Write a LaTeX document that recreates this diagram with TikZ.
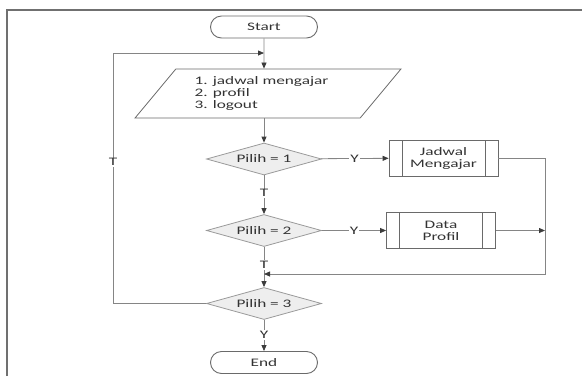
\documentclass[tikz,border=0pt]{standalone}
\usepackage{fontspec}
\setmainfont{Carlito}[FakeStretch=1.5]
\usetikzlibrary{shapes.geometric,shapes.misc,arrows.meta}

\definecolor{ink}{HTML}{333333}
\definecolor{wire}{HTML}{858585}
\definecolor{tipc}{HTML}{3C3C3C}
\definecolor{decfill}{HTML}{EEEEEE}
\definecolor{decline}{HTML}{9A9A9A}
\definecolor{boxline}{HTML}{6A6A6A}
\definecolor{framec}{HTML}{707070}

\begin{document}
\begin{tikzpicture}[x=1pt,y=-1pt,
  font=\fontsize{11.5}{12}\selectfont, text=ink,
  terminal/.style={rounded rectangle, draw=boxline, line width=0.9pt,
    minimum width=107pt, minimum height=22pt, inner sep=0pt},
  menubox/.style={trapezium, trapezium left angle=47.5, trapezium right angle=132.5,
    trapezium stretches=true, draw=boxline, line width=0.8pt, align=left,
    minimum width=266pt, minimum height=49pt, inner sep=1pt},
  decision/.style={diamond, aspect=3.6, draw=decline, fill=decfill, line width=0.8pt,
    minimum width=115pt, minimum height=32pt, inner sep=0pt},
  subproc/.style={rectangle, draw=boxline, line width=0.8pt, align=center,
    minimum width=109pt, minimum height=36pt, inner sep=0pt,
    path picture={
      \draw[boxline, line width=0.8pt]
        ([xshift=13pt]path picture bounding box.north west) --
        ([xshift=13pt]path picture bounding box.south west)
        ([xshift=-13pt]path picture bounding box.north east) --
        ([xshift=-13pt]path picture bounding box.south east);}},
  wireline/.style={draw=wire, line width=0.8pt},
  arr/.style={wireline, -{Triangle[length=6pt,width=5pt,color=tipc]}},
  lbl/.style={fill=white, inner sep=1pt},
  framing/.style={draw=framec, line width=1.6pt}
]
\useasboundingbox (0,0) rectangle (582,376);

% page frame
\draw[framing] (7,376) -- (7,10) -- (582,10);

% nodes
\node[terminal] (start) at (264,27) {Start};
\node[menubox] (menu) at (268,93.5) {1. jadwal mengajar\hspace*{13pt}\\2. profil\\3. logout};
\node[decision] (d1) at (264,159) {Pilih = 1};
\node[decision] (d2) at (264,230.5) {Pilih = 2};
\node[decision] (d3) at (264,303.5) {Pilih = 3};
\node[subproc] (jadwal) at (443.5,158) {Jadwal\\Mengajar};
\node[subproc] (profil) at (441,230.5) {Data\\Profil};
\node[terminal] (end) at (264,362.5) {End};

% routing points
\coordinate (rj) at (545,274);
\coordinate (mj) at (264,274);
\coordinate (lb) at (113,303.5);
\coordinate (lt) at (113,53);

% connectors
\draw[arr] (start) -- (start |- menu.north);
\draw[arr] (d1 |- menu.south) -- (d1);
\draw[arr] (d1) -- node[lbl] {Y} (jadwal);
\draw[arr] (d1) -- node[lbl, pos=0.46] {T} (d2);
\draw[arr] (d2) -- node[lbl] {Y} (profil);
\draw[arr] (d2) -- node[lbl, pos=0.45] {T} (d3);
\draw[arr] (jadwal.east) -| (rj) -- (mj);
\draw[arr] (profil.east) -- (profil.east -| rj);
\draw[arr] (d3.west) -- (lb) -- node[lbl, pos=0.564] {T} (lt) -- (start |- lt);
\draw[arr] (d3) -- node[lbl, pos=0.48] {Y} (end);
\end{tikzpicture}
\end{document}
